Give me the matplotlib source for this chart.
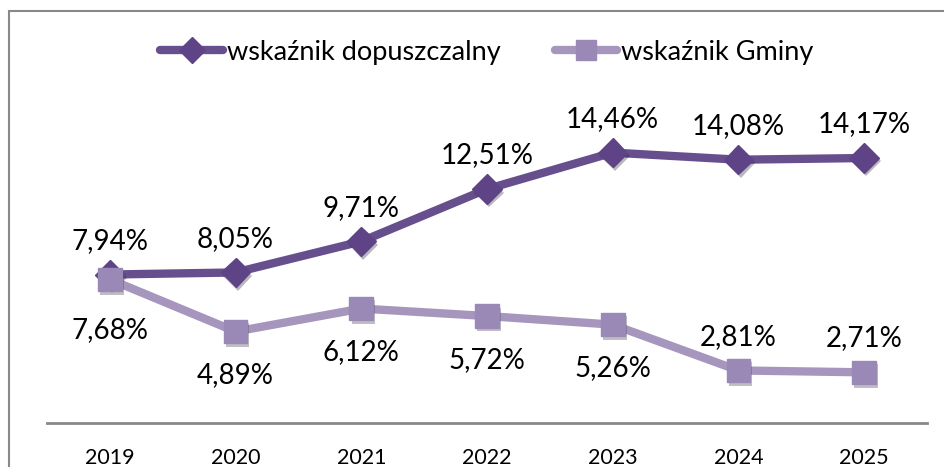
import matplotlib

matplotlib.use('Agg')
from matplotlib import pyplot as plt
from matplotlib.patches import Rectangle
from matplotlib.lines import Line2D
import matplotlib.patheffects as pe

plt.rcParams['font.family'] = ['Lato', 'DejaVu Sans']

years = ['2019', '2020', '2021', '2022', '2023', '2024', '2025']
dopuszczalny = [7.94, 8.05, 9.71, 12.51, 14.46, 14.08, 14.17]
gminy = [7.68, 4.89, 6.12, 5.72, 5.26, 2.81, 2.71]
# which gmina labels sit above the point
gminy_above = [False, False, False, False, False, True, True]

DARK = '#674f8d'
DARK_M = '#5e4386'
LIGHT = '#a696be'
LIGHT_M = '#9a88b6'


def fmt(v):
    return f'{v:.2f}'.replace('.', ',') + '%'


fig = plt.figure(figsize=(9.45, 4.67), dpi=100)
ax = fig.add_axes([47 / 945, 44 / 467, 880 / 945, 374 / 467])

x = list(range(len(years)))
shadow = [pe.SimplePatchShadow(offset=(1.5, -2.5), alpha=0.3), pe.Normal()]

# lines first, markers on top (with a soft shadow like the original)
ax.plot(x, dopuszczalny, color=DARK, lw=6, solid_capstyle='round', zorder=3)
ax.plot(x, gminy, color=LIGHT, lw=6, solid_capstyle='round', zorder=4)
ax.plot(x, dopuszczalny, ls='none', marker='D', ms=15, mfc=DARK_M, mec=DARK_M,
        zorder=5, path_effects=shadow)
ax.plot(x, gminy, ls='none', marker='s', ms=17, mfc=LIGHT_M, mec=LIGHT_M,
        zorder=6, path_effects=shadow)

for i, v in enumerate(dopuszczalny):
    ax.annotate(fmt(v), (i, v), xytext=(0, 15), textcoords='offset points',
                ha='center', va='bottom', fontsize=20, color='black')
for i, v in enumerate(gminy):
    if gminy_above[i]:
        ax.annotate(fmt(v), (i, v), xytext=(0, 15), textcoords='offset points',
                    ha='center', va='bottom', fontsize=20, color='black')
    else:
        off = -27 if i == 0 else -22
        ax.annotate(fmt(v), (i, v), xytext=(0, off), textcoords='offset points',
                    ha='center', va='top', fontsize=20, color='black')

ax.set_xlim(-0.5, 6.5)
ax.set_ylim(0, 20)
ax.set_xticks(x)
ax.set_xticklabels(years, fontsize=15.5)
ax.tick_params(axis='x', length=0, pad=18)
ax.set_yticks([])
for s in ['top', 'right', 'left']:
    ax.spines[s].set_visible(False)
ax.spines['bottom'].set_color('#888888')
ax.spines['bottom'].set_linewidth(2)

handles = [
    Line2D([], [], color=DARK, lw=6, solid_capstyle='round', marker='D', ms=13,
           mfc=DARK_M, mec=DARK_M),
    Line2D([], [], color=LIGHT, lw=6, solid_capstyle='round', marker='s', ms=14,
           mfc=LIGHT_M, mec=LIGHT_M),
]
ax.legend(handles, ['wskaźnik dopuszczalny', 'wskaźnik Gminy'],
          loc='upper center', bbox_to_anchor=(0.5, 1.09), ncol=2, frameon=False,
          fontsize=19.5, handlelength=2.3, handletextpad=0.15, columnspacing=2.0)

# outer frame like the chart area border
fig.patches.append(Rectangle((9 / 945, -0.01), 1.0, 1 - 11 / 467 + 0.01,
                             transform=fig.transFigure, fill=False,
                             edgecolor='#888888', lw=1.5))

fig.savefig('out.png', dpi=100)
